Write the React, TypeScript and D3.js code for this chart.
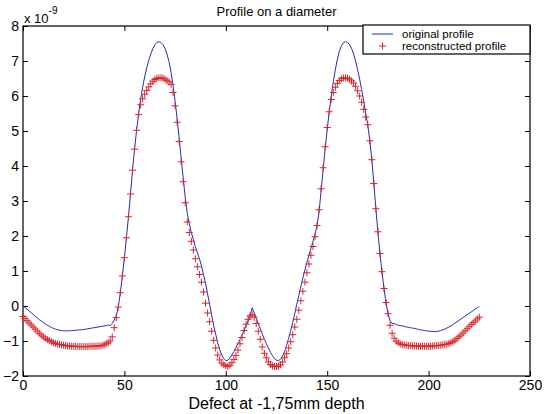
import { useEffect, useRef } from "react";
import * as d3 from "d3";

// sample index = position along the diameter (0..225)
const originalProfile = [
  0.0, -0.04, -0.09, -0.14, -0.19, -0.24, -0.29, -0.34, -0.39, -0.43,
  -0.47, -0.51, -0.55, -0.58, -0.61, -0.64, -0.66, -0.68, -0.69, -0.7,
  -0.71, -0.71, -0.71, -0.71, -0.7, -0.7, -0.69, -0.69, -0.68, -0.68,
  -0.67, -0.66, -0.65, -0.64, -0.63, -0.62, -0.61, -0.6, -0.59, -0.58,
  -0.57, -0.56, -0.54, -0.56, -0.5, -0.4, -0.28, -0.02, 0.38, 0.86,
  1.38, 1.95, 2.55, 3.2, 3.88, 4.48, 5.02, 5.5, 5.9, 6.25,
  6.55, 6.8, 7.02, 7.2, 7.35, 7.46, 7.53, 7.55, 7.53, 7.47,
  7.36, 7.2, 6.98, 6.68, 6.3, 5.85, 5.35, 4.8, 4.22, 3.65,
  3.1, 2.65, 2.35, 2.1, 1.9, 1.7, 1.52, 1.35, 1.15, 0.9,
  0.65, 0.35, 0.05, -0.25, -0.55, -0.8, -1.05, -1.25, -1.4, -1.5,
  -1.56, -1.55, -1.49, -1.4, -1.3, -1.19, -1.07, -0.95, -0.83, -0.7,
  -0.57, -0.43, -0.27, -0.05, -0.2, -0.35, -0.5, -0.65, -0.8, -0.95,
  -1.08, -1.2, -1.32, -1.42, -1.5, -1.55, -1.56, -1.52, -1.43, -1.3,
  -1.12, -0.92, -0.7, -0.47, -0.22, 0.05, 0.3, 0.55, 0.8, 1.03,
  1.25, 1.45, 1.65, 1.85, 2.05, 2.3, 2.7, 3.3, 3.9, 4.5,
  5.05, 5.55, 6.0, 6.4, 6.75, 7.05, 7.28, 7.43, 7.52, 7.55,
  7.53, 7.47, 7.36, 7.2, 7.0, 6.75, 6.48, 6.18, 5.85, 5.5,
  5.18, 4.72, 4.18, 3.5, 2.78, 2.12, 1.5, 0.98, 0.5, 0.1,
  -0.22, -0.42, -0.5, -0.5, -0.53, -0.55, -0.56, -0.57, -0.58, -0.6,
  -0.61, -0.62, -0.63, -0.64, -0.65, -0.67, -0.68, -0.69, -0.7, -0.71,
  -0.72, -0.72, -0.73, -0.73, -0.73, -0.72, -0.7, -0.68, -0.66, -0.63,
  -0.6, -0.57, -0.53, -0.49, -0.45, -0.41, -0.37, -0.33, -0.29, -0.25,
  -0.21, -0.17, -0.13, -0.09, -0.05, -0.02,
];

const reconstructedProfile = [
  -0.3, -0.36, -0.42, -0.48, -0.54, -0.6, -0.66, -0.72, -0.78, -0.83,
  -0.88, -0.92, -0.96, -0.99, -1.02, -1.05, -1.07, -1.09, -1.1, -1.11,
  -1.12, -1.13, -1.14, -1.14, -1.15, -1.15, -1.15, -1.16, -1.16, -1.16,
  -1.16, -1.16, -1.16, -1.15, -1.15, -1.15, -1.15, -1.14, -1.14, -1.13,
  -1.11, -1.08, -1.05, -1.0, -0.88, -0.62, -0.33, -0.03, 0.38, 0.86,
  1.38, 1.95, 2.55, 3.2, 3.88, 4.48, 5.02, 5.47, 5.75, 5.92,
  6.05, 6.16, 6.26, 6.35, 6.42, 6.47, 6.5, 6.52, 6.52, 6.51,
  6.48, 6.44, 6.4, 6.33, 6.1, 5.72, 5.25, 4.7, 4.12, 3.55,
  2.95, 2.4, 2.1, 1.85, 1.6, 1.35, 1.12, 0.9, 0.68, 0.4,
  0.08, -0.2, -0.45, -0.72, -0.98, -1.2, -1.4, -1.54, -1.63, -1.68,
  -1.71, -1.73, -1.69, -1.62, -1.53, -1.41, -1.26, -1.08, -0.9, -0.7,
  -0.52, -0.38, -0.28, -0.25, -0.32, -0.5, -0.72, -0.95, -1.17, -1.35,
  -1.48, -1.6, -1.67, -1.71, -1.73, -1.73, -1.72, -1.68, -1.6, -1.48,
  -1.36, -1.2, -1.02, -0.82, -0.6, -0.38, -0.12, 0.15, 0.42, 0.68,
  0.95, 1.2, 1.45, 1.7, 1.98, 2.3, 2.75, 3.35, 3.95, 4.55,
  5.1, 5.55, 5.9, 6.1, 6.25, 6.36, 6.44, 6.49, 6.52, 6.52,
  6.51, 6.48, 6.43, 6.37, 6.28, 6.15, 6.0, 5.82, 5.62, 5.4,
  5.18, 4.72, 4.18, 3.5, 2.78, 2.12, 1.5, 0.98, 0.5, 0.1,
  -0.22, -0.55, -0.78, -0.92, -1.0, -1.05, -1.08, -1.1, -1.11, -1.12,
  -1.13, -1.13, -1.14, -1.14, -1.14, -1.15, -1.15, -1.15, -1.15, -1.15,
  -1.15, -1.15, -1.14, -1.14, -1.13, -1.13, -1.12, -1.11, -1.1, -1.09,
  -1.07, -1.05, -1.02, -0.98, -0.93, -0.88, -0.83, -0.77, -0.71, -0.65,
  -0.59, -0.53, -0.48, -0.43, -0.37, -0.32,
];

const xTicks = [0, 50, 100, 150, 200, 250];
const yTicks = [-2, -1, 0, 1, 2, 3, 4, 5, 6, 7, 8];
const legendLabels = ["original profile", "reconstructed profile"];

const title = "Profile on a diameter";
const xLabel = "Defect at -1,75mm depth";

const font = "'Liberation Sans', Arial, sans-serif";
const blue = "#2a2ab4";
const red = "#d8262a";

const App = () => {
  const svgRef = useRef(null);

  useEffect(() => {
    const width = 547;
    const height = 414;
    const margin = { top: 26, right: 17, bottom: 38, left: 23 };

    const svg = d3.select(svgRef.current);
    svg.selectAll("*").remove();

    const x = d3
      .scaleLinear()
      .domain([0, 250])
      .range([margin.left, width - margin.right]);

    const y = d3
      .scaleLinear()
      .domain([-2, 8])
      .range([height - margin.bottom, margin.top]);

    const styleAxis = (g) => {
      g.select(".domain").remove();
      g.selectAll("line").attr("stroke", "#000");
      g.selectAll("text")
        .attr("font-family", font)
        .attr("font-size", 14)
        .attr("fill", "#000");
    };

    // inward ticks on all four sides, labels only bottom and left
    svg
      .append("g")
      .attr("transform", `translate(0,${y(-2)})`)
      .call(d3.axisBottom(x).tickValues(xTicks).tickSizeInner(-5).tickSizeOuter(0).tickPadding(4))
      .call(styleAxis);

    svg
      .append("g")
      .attr("transform", `translate(0,${y(8)})`)
      .call(d3.axisTop(x).tickValues(xTicks).tickSizeInner(-5).tickSizeOuter(0).tickFormat(() => ""))
      .call(styleAxis);

    svg
      .append("g")
      .attr("transform", `translate(${x(0)},0)`)
      .call(d3.axisLeft(y).tickValues(yTicks).tickSizeInner(-5).tickSizeOuter(0).tickPadding(4))
      .call(styleAxis);

    svg
      .append("g")
      .attr("transform", `translate(${x(250)},0)`)
      .call(d3.axisRight(y).tickValues(yTicks).tickSizeInner(-5).tickSizeOuter(0).tickFormat(() => ""))
      .call(styleAxis);

    svg
      .append("rect")
      .attr("x", x(0))
      .attr("y", y(8))
      .attr("width", x(250) - x(0))
      .attr("height", y(-2) - y(8))
      .attr("fill", "none")
      .attr("stroke", "#000")
      .attr("stroke-width", 1.2);

    const line = d3
      .line()
      .x((d, i) => x(i))
      .y((d) => y(d));

    svg
      .append("path")
      .datum(originalProfile)
      .attr("d", line)
      .attr("fill", "none")
      .attr("stroke", blue)
      .attr("stroke-width", 1);

    const plus = (cx, cy, r) => `M${cx - r},${cy}H${cx + r}M${cx},${cy - r}V${cy + r}`;

    svg
      .append("g")
      .selectAll("path")
      .data(reconstructedProfile)
      .join("path")
      .attr("d", (d, i) => plus(x(i), y(d), 3.5))
      .attr("stroke", red)
      .attr("stroke-width", 1)
      .attr("fill", "none");

    // exponent label
    const expo = svg
      .append("text")
      .attr("x", x(0) + 1)
      .attr("y", 23)
      .attr("font-family", font)
      .attr("font-size", 13)
      .attr("fill", "#000");
    expo.append("tspan").text("x 10");
    expo.append("tspan").attr("dy", -9).attr("font-size", 10).text("-9");

    svg
      .append("text")
      .attr("x", (x(0) + x(250)) / 2)
      .attr("y", 16)
      .attr("text-anchor", "middle")
      .attr("font-family", font)
      .attr("font-size", 13)
      .text(title);

    svg
      .append("text")
      .attr("x", (x(0) + x(250)) / 2)
      .attr("y", 409)
      .attr("text-anchor", "middle")
      .attr("font-family", font)
      .attr("font-size", 16)
      .text(xLabel);

    // legend
    const lg = svg.append("g");
    lg.append("rect")
      .attr("x", 363)
      .attr("y", 25)
      .attr("width", x(250) - 363)
      .attr("height", 29)
      .attr("fill", "#fff")
      .attr("stroke", "#000")
      .attr("stroke-width", 1.2);
    lg.append("line")
      .attr("x1", 372)
      .attr("x2", 393)
      .attr("y1", 34)
      .attr("y2", 34)
      .attr("stroke", blue);
    lg.append("path")
      .attr("d", plus(382.5, 46, 3.5))
      .attr("stroke", red)
      .attr("fill", "none");
    lg.selectAll("text.lab")
      .data(legendLabels)
      .join("text")
      .attr("class", "lab")
      .attr("x", 402)
      .attr("y", (d, i) => 37.5 + i * 12.5)
      .attr("font-family", font)
      .attr("font-size", 11.5)
      .text((d) => d);
  }, []);

  return (
    <svg
      ref={svgRef}
      width={547}
      height={414}
      style={{ position: "absolute", left: 0, top: 0, background: "#fff" }}
    />
  );
};

export default App;
